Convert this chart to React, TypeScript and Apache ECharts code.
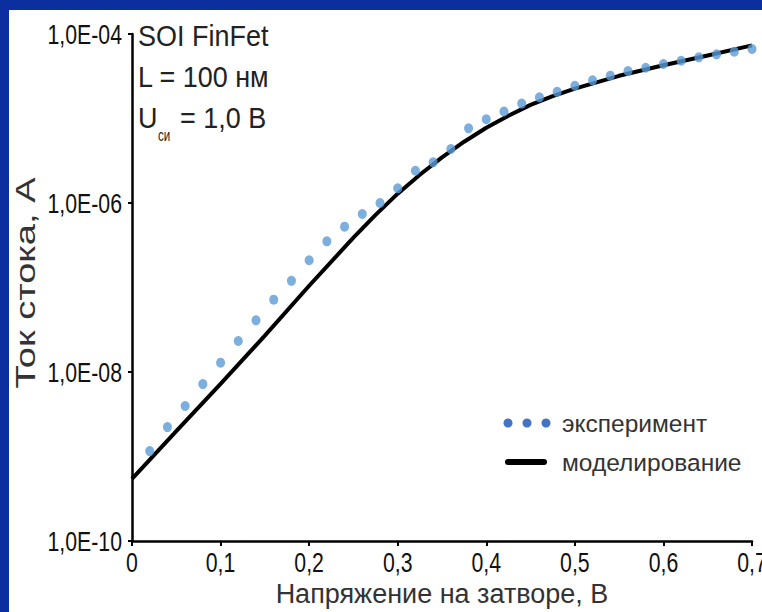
import React, { useEffect, useRef } from "react";
import * as echarts from "echarts";

// Measured drain current (A) vs gate voltage (V)
const gateVoltage = [
  0.02, 0.04, 0.06, 0.08, 0.1, 0.12, 0.14, 0.16, 0.18, 0.2, 0.22, 0.24,
  0.26, 0.28, 0.3, 0.32, 0.34, 0.36, 0.38, 0.4, 0.42, 0.44, 0.46, 0.48,
  0.5, 0.52, 0.54, 0.56, 0.58, 0.6, 0.62, 0.64, 0.66, 0.68, 0.7,
];
const measuredCurrent = [
  1.16e-9, 2.23e-9, 3.96e-9, 7.2e-9, 1.29e-8, 2.33e-8, 4.09e-8, 7.18e-8,
  1.2e-7, 2.1e-7, 3.52e-7, 5.25e-7, 7.41e-7, 1.0e-6, 1.49e-6, 2.41e-6,
  3.03e-6, 4.36e-6, 7.65e-6, 9.8e-6, 1.21e-5, 1.5e-5, 1.78e-5, 2.07e-5,
  2.44e-5, 2.83e-5, 3.21e-5, 3.65e-5, 3.99e-5, 4.42e-5, 4.83e-5, 5.3e-5,
  5.75e-5, 6.18e-5, 6.64e-5,
];

// Simulated curve
const modelVoltage = [
  0, 0.05, 0.1, 0.15, 0.2, 0.25, 0.275, 0.3, 0.325, 0.35, 0.375, 0.4, 0.425,
  0.45, 0.475, 0.5, 0.55, 0.6, 0.65, 0.7,
];
const modelCurrent = [
  5.42e-10, 2.0e-9, 7.24e-9, 2.69e-8, 1.05e-7, 3.89e-7, 7.24e-7, 1.29e-6,
  2.16e-6, 3.47e-6, 5.31e-6, 7.76e-6, 1.08e-5, 1.45e-5, 1.84e-5, 2.26e-5,
  3.2e-5, 4.27e-5, 5.56e-5, 7.33e-5,
];

const xTicks = [0, 0.1, 0.2, 0.3, 0.4, 0.5, 0.6, 0.7];
const yTicks = [1e-10, 1e-8, 1e-6, 1e-4];

const titleLines = ["SOI FinFet", "L = 100 нм"];
const legendLabels = ["эксперимент", "моделирование"];
const xAxisTitle = "Напряжение на затворе, В";
const yAxisTitle = "Ток стока, А";

const SANS = "'Liberation Sans', Arial, sans-serif";
// condensed look for tick labels
const TICK_SCALE = 0.76;

const fmtX = (v: number) => (v === 0 ? "0" : v.toFixed(1).replace(".", ","));
const fmtY = (v: number) => {
  const e = Math.round(Math.log10(v));
  return "1,0E-" + String(-e).padStart(2, "0");
};

export default function App() {
  const ref = useRef<HTMLDivElement>(null);

  useEffect(() => {
    if (!ref.current) return;
    const chart = echarts.init(ref.current, null, { renderer: "svg" });

    const scatterData = gateVoltage.map((v, i) => [v, measuredCurrent[i]]);
    const lineData = modelVoltage.map((v, i) => [v, modelCurrent[i]]);

    chart.setOption({
      animation: false,
      backgroundColor: "#0b2f9f",
      grid: { left: 132, right: 10, top: 34, bottom: 71 },
      xAxis: {
        type: "value",
        min: 0,
        max: 0.7,
        interval: 0.1,
        name: xAxisTitle,
        nameLocation: "middle",
        nameGap: 39,
        nameTextStyle: { fontFamily: SANS, fontSize: 27, color: "#333" },
        axisLine: { lineStyle: { color: "#000", width: 2.5 } },
        axisTick: { length: 5, lineStyle: { color: "#000", width: 2 } },
        axisLabel: { show: false },
        splitLine: { show: false },
      },
      yAxis: {
        type: "log",
        min: 1e-10,
        max: 1e-4,
        interval: 2,
        axisLine: { show: true, lineStyle: { color: "#000", width: 2.5 } },
        axisTick: { show: true, length: 4, lineStyle: { color: "#000", width: 2 } },
        minorTick: { show: false },
        axisLabel: { show: false },
        splitLine: { show: false },
      },
      series: [
        {
          type: "line",
          data: lineData,
          showSymbol: false,
          lineStyle: { color: "#000", width: 4, join: "round" },
          z: 2,
        },
        {
          type: "scatter",
          data: scatterData,
          symbol: "circle",
          symbolSize: [9, 10],
          itemStyle: { color: "#5b9bd5" },
          z: 3,
        },
      ],
    });

    // tick labels placed through the axes' own scales
    const xLabelEls = xTicks.map((v) => {
      const [px, py] = chart.convertToPixel({ gridIndex: 0 }, [v, 1e-10]) as number[];
      return {
        type: "text",
        x: px,
        y: py + 21,
        scaleX: TICK_SCALE,
        style: {
          text: fmtX(v),
          fontFamily: SANS,
          fontSize: 28,
          fill: "#111",
          textAlign: "center",
          textVerticalAlign: "middle",
        },
      };
    });
    const yLabelEls = yTicks.map((v) => {
      const [px, py] = chart.convertToPixel({ gridIndex: 0 }, [0, v]) as number[];
      return {
        type: "text",
        x: px - 10,
        y: py,
        scaleX: TICK_SCALE,
        style: {
          text: fmtY(v),
          fontFamily: SANS,
          fontSize: 28,
          fill: "#111",
          textAlign: "right",
          textVerticalAlign: "middle",
        },
      };
    });

    const titleFont = { fontFamily: SANS, fontSize: 29, fill: "#222" };

    chart.setOption({
      graphic: [
        {
          type: "rect",
          z: -10,
          silent: true,
          shape: { x: 9, y: 10, width: 760, height: 610 },
          style: { fill: "#ffffff" },
        },
        ...xLabelEls,
        ...yLabelEls,
        // annotation block
        {
          type: "text",
          x: 138,
          y: 36,
          scaleX: 0.93,
          style: { ...titleFont, text: titleLines[0], textVerticalAlign: "middle" },
        },
        {
          type: "text",
          x: 138,
          y: 77,
          scaleX: 0.93,
          style: { ...titleFont, text: titleLines[1], textVerticalAlign: "middle" },
        },
        {
          type: "text",
          x: 138,
          y: 118,
          scaleX: 0.93,
          style: { ...titleFont, text: "U", textVerticalAlign: "middle" },
        },
        {
          type: "text",
          x: 158,
          y: 135,
          scaleX: 0.68,
          style: { fontFamily: SANS, fontSize: 17, fill: "#222", text: "си", textVerticalAlign: "middle" },
        },
        {
          type: "text",
          x: 180,
          y: 118,
          scaleX: 0.93,
          style: { ...titleFont, text: "= 1,0 В", textVerticalAlign: "middle" },
        },
        // y axis title
        {
          type: "text",
          x: 25,
          y: 283,
          rotation: Math.PI / 2,
          scaleX: 1.36,
          style: {
            fontFamily: SANS,
            fontSize: 28,
            fill: "#333",
            text: yAxisTitle,
            textAlign: "center",
            textVerticalAlign: "middle",
          },
        },
        // legend
        { type: "circle", shape: { cx: 508, cy: 423, r: 4.5 }, style: { fill: "#4472c4" } },
        { type: "circle", shape: { cx: 527, cy: 423, r: 4.5 }, style: { fill: "#4472c4" } },
        { type: "circle", shape: { cx: 546, cy: 423, r: 4.5 }, style: { fill: "#4472c4" } },
        {
          type: "text",
          x: 562,
          y: 423,
          style: { fontFamily: SANS, fontSize: 24.5, fill: "#333", text: legendLabels[0], textVerticalAlign: "middle" },
        },
        {
          type: "rect",
          shape: { x: 505, y: 459, width: 42, height: 6, r: 3 },
          style: { fill: "#000" },
        },
        {
          type: "text",
          x: 562,
          y: 462,
          style: { fontFamily: SANS, fontSize: 24.5, fill: "#333", text: legendLabels[1], textVerticalAlign: "middle" },
        },
      ],
    });

    return () => chart.dispose();
  }, []);

  return (
    <div
      ref={ref}
      style={{ position: "fixed", left: 0, top: 0, width: 762, height: 612 }}
    />
  );
}
